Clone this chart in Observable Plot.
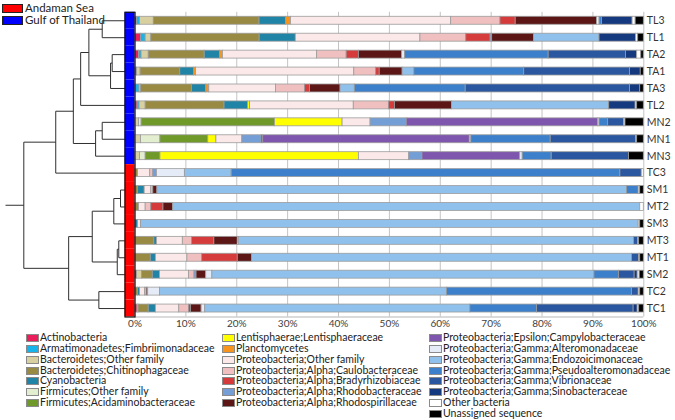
<!DOCTYPE html>
<html>
<head>
<meta charset="utf-8">
<script src="https://cdn.jsdelivr.net/npm/d3@7"></script>
<script src="https://cdn.jsdelivr.net/npm/@observablehq/plot@0.6"></script>
<style>
  body { margin: 0; background: #fff; }
  #wrap { position: relative; width: 675px; height: 420px; background: #fff; font-family: Lato, "Open Sans", sans-serif; overflow: hidden; }
  .abs { position: absolute; }
  .leg-row { position: absolute; height: 10.4px; font-size: 10.5px; color: #222; white-space: nowrap; }
  .leg-sw { position: absolute; left: 0; top: 2px; width: 11px; height: 6px; border: 0.8px solid #8a8a8a; }
  .leg-tx { position: absolute; left: 14px; top: 0; display: inline-block; height: 10.4px; line-height: 10.4px; overflow: visible; }
  .rleg { position: absolute; left: 0; height: 10px; font-size: 11.5px; color: #222; white-space: nowrap; }
  .rleg-sw { position: absolute; left: 0; top: 1px; width: 19px; height: 7px; border: 1px solid #222; }
  .rleg-tx { position: absolute; left: 23px; top: 0; display: inline-block; height: 10px; line-height: 10px; overflow: visible; }
</style>
</head>
<body>
<div id="wrap">
  <div id="bars" class="abs" style="left:0;top:0"></div>
  <div id="dendro" class="abs" style="left:0;top:0"></div>
  <div id="strip" class="abs" style="left:124px;top:0"></div>
  <div id="rlegend" class="abs" style="left:2px;top:2.5px"></div>
  <div id="legend" class="abs" style="left:0;top:331px;width:675px;height:89px"></div>
</div>
<script>
// ---------------- DATA ----------------
const samples = ["TL3","TL1","TA2","TA1","TA3","TL2","MN2","MN1","MN3","TC3","SM1","MT2","SM3","MT3","MT1","SM2","TC2","TC1"];
const sampleRegion = ["Gulf of Thailand","Gulf of Thailand","Gulf of Thailand","Gulf of Thailand","Gulf of Thailand","Gulf of Thailand","Gulf of Thailand","Gulf of Thailand","Gulf of Thailand",
  "Andaman Sea","Andaman Sea","Andaman Sea","Andaman Sea","Andaman Sea","Andaman Sea","Andaman Sea","Andaman Sea","Andaman Sea"];
const regionNames = ["Andaman Sea","Gulf of Thailand"];
const regionColors = ["#FF0000","#0000FF"];

const categories = [
  "Actinobacteria",
  "Armatimonadetes;Fimbriimonadaceae",
  "Bacteroidetes;Other family",
  "Bacteroidetes;Chitinophagaceae",
  "Cyanobacteria",
  "Firmicutes;Other family",
  "Firmicutes;Acidaminobacteraceae",
  "Lentisphaerae;Lentisphaeraceae",
  "Planctomycetes",
  "Proteobacteria;Other family",
  "Proteobacteria;Alpha;Caulobacteraceae",
  "Proteobacteria;Alpha;Bradyrhizobiaceae",
  "Proteobacteria;Alpha;Rhodobacteraceae",
  "Proteobacteria;Alpha;Rhodospirillaceae",
  "Proteobacteria;Epsilon;Campylobacteraceae",
  "Proteobacteria;Gamma;Alteromonadaceae",
  "Proteobacteria;Gamma;Endozoicimonaceae",
  "Proteobacteria;Gamma;Pseudoalteromonadaceae",
  "Proteobacteria;Gamma;Vibrionaceae",
  "Proteobacteria;Gamma;Sinobacteraceae",
  "Other bacteria",
  "Unassigned sequence"
];
const categoryColors = [
  "#EA1E5A","#16B4EA","#D8D0A0","#988A42","#2084A6","#E3EED0","#6F9A2A","#FFFF00",
  "#F7941D","#FBE8E8","#F0C0C0","#D63B3B","#749FD6","#5C1616","#7F56AE","#E6ECF7",
  "#8FC1EC","#3C80CC","#2A579F","#15397F","#FFFFFF","#000000"
];

// relative abundance (%) per sample, in category order
const TL3 = [0.4,0.6,2.7,20.8,5.2,0,0,0,1.0,31.5,9.7,3.0,0,16.0,0,0.5,0,0.5,0,6.0,0.6,1.6];
const TL1 = [1.2,0.9,1.1,21.3,7.1,0,0,0,0,24.5,9.0,4.8,0.3,8.2,0,0,12.9,0,0,7.2,0.4,1.1];
const TA2 = [0.8,0.5,1.4,11.0,3.0,0,0,0,0.6,18.5,5.8,2.4,0,8.5,0,0.6,0,28.2,15.2,2.2,0.8,0.5];
const TA1 = [0,0.4,0.7,7.8,2.7,0,0,0,0.4,31.1,4.3,0.7,0,4.5,0,0,2.3,21.6,20.8,2.1,0,0.6];
const TA3 = [0,0.9,0.3,10.0,2.8,0,0,0,0.6,13.1,5.7,1.0,0,6.0,0,0,2.8,21.8,32.3,2.0,0,0.7];
const TL2 = [0.5,0.4,1.2,15.5,4.6,0,0,0.4,0,20.4,6.9,1.2,0,11.2,0,0,30.9,0,0,5.2,0.3,1.3];
const MN2 = [0,0,0.8,0,0,0.5,26.2,13.3,0,5.5,0,0,7.1,0,37.6,0.3,0,1.7,3.1,0,0.3,3.6];
const MN1 = [0,0,1.2,0,0,3.8,9.4,1.6,0,5.1,0,0,3.8,0.3,40.6,0.3,0,15.6,16.8,0,0.2,1.3];
const MN3 = [0,0,1.0,0,0,1.1,2.9,39.0,0,9.9,0,0,2.6,0,19.2,0.5,0,5.7,15.2,0,0,2.9];
const TC3 = [0,0,0,0.6,0,0,0,0,0,2.4,0.6,0,0.7,0,0,5.5,9.2,76.4,4.2,0,0.4,0];
const SM1 = [0,0,0,0.6,1.3,0,0,0,0,1.3,0.4,0,0,0.8,0,0,92.3,2.3,0,0,0.3,0.7];
const MT2 = [0,0,0,0.8,0,0,0,0,0,1.3,1.1,2.4,0,1.9,0,0,91.8,0,0,0,0.7,0];
const SM3 = [0,0,0,0,0.6,0,0,0,0,0.6,0,0,0,0,0,0,97.8,0,0,0,0.3,0.7];
const MT3 = [0,0,0,3.8,0.5,0,0,0,0,5.1,1.8,4.4,0,4.6,0,0.2,77.7,0,0.8,0,0.2,0.9];
const MT1 = [0,0,0,3.1,1.0,0,0,0,0,6.2,2.9,7.0,0,2.8,0,0,74.7,0,1.4,0,0.2,0.7];
const SM2 = [0.4,0,1.0,2.1,1.4,0,0,0,0,5.7,1.1,0,0.4,1.9,0,1.2,75.1,4.8,3.1,0.6,0.4,0.8];
const TC2 = [0,0,0,0.6,0.4,0,0,0,0,1.0,0.3,0,0,0.3,0,2.3,56.4,36.4,1.3,0,0.3,0.7];
const TC1 = [0.5,0,0.2,2.0,1.4,0,0,0,0,4.6,1.9,0.4,0,2.1,0,0.7,52.1,13.1,19.0,0.8,0.3,0.9];
const sampleValues = [TL3,TL1,TA2,TA1,TA3,TL2,MN2,MN1,MN3,TC3,SM1,MT2,SM3,MT3,MT1,SM2,TC2,TC1];

// hierarchical clustering: [id, childA, childB, height]
const merges = [
  ["E","TL3","TL1",0.229],
  ["G","TA2","TA1",0.131],
  ["F","G","TA3",0.147],
  ["D","E","F",0.360],
  ["C","D","TL2",0.441],
  ["I","MN2","MN1",0.229],
  ["H","I","MN3",0.294],
  ["B","C","H",0.513],
  ["A","B","TC3",0.686],
  ["M","SM1","MT2",0.049],
  ["L","M","SM3",0.115],
  ["O","MT3","MT1",0.066],
  ["N","O","SM2",0.081],
  ["K","L","N",0.327],
  ["P","TC2","TC1",0.262],
  ["J","K","P",0.559],
  ["R","A","J",1.000]
];
const rootStub = 0.18;

const xTicks = [0,0.1,0.2,0.3,0.4,0.5,0.6,0.7,0.8,0.9,1];
const xTickLabels = ["0%","10%","20%","30%","40%","50%","60%","70%","80%","90%","100%"];

// ---------------- LAYOUT ----------------
const H = 331, MT = 11.8, MB = 14.5;
const yDomain = [-0.5, samples.length - 0.5];
const barHalf = 0.235;
const font = 'Lato, "Open Sans", sans-serif';

// stacked segments
const segs = [];
sampleValues.forEach((vals, i) => {
  const total = d3.sum(vals);
  let cum = 0;
  vals.forEach((v, j) => {
    if (v > 0) {
      segs.push({sample: samples[i], row: i, category: categories[j], x1: cum / total, x2: (cum + v) / total});
      cum += v;
    }
  });
});

const bars = Plot.plot({
  width: 675, height: H,
  marginLeft: 134.5, marginRight: 31.7, marginTop: MT, marginBottom: MB,
  style: {fontFamily: font, fontSize: "10px", color: "#404040", background: "transparent", overflow: "visible"},
  x: {domain: [0, 1], ticks: xTicks, tickFormat: (d) => xTickLabels[xTicks.indexOf(d)], tickSize: 0, tickPadding: 3, label: null},
  y: {domain: yDomain, reverse: true, axis: null},
  color: {domain: categories, range: categoryColors},
  marks: [
    Plot.ruleX(xTicks, {stroke: "#c4c4c4", strokeWidth: 1}),
    Plot.ruleY([yDomain[1]], {stroke: "#b8b8b8", strokeWidth: 1.2}),
    Plot.rect(segs, {x1: "x1", x2: "x2", y1: (d) => d.row - barHalf, y2: (d) => d.row + barHalf, fill: "category", stroke: "#9c9c9c", strokeWidth: 0.8}),
    Plot.text(samples, {x: () => 1, y: (d, i) => i, text: (d) => d, textAnchor: "start", dx: 3, fontSize: 10.5, fill: "#333"})
  ]
});
document.getElementById("bars").appendChild(bars);

// dendrogram geometry
const pos = new Map(samples.map((s, i) => [s, {y: i, h: 0}]));
const dsegs = [];
for (const [id, a, b, h] of merges) {
  const A = pos.get(a), B = pos.get(b);
  dsegs.push({x1: h, y1: A.y, x2: h, y2: B.y});
  dsegs.push({x1: A.h, y1: A.y, x2: h, y2: A.y});
  dsegs.push({x1: B.h, y1: B.y, x2: h, y2: B.y});
  pos.set(id, {y: (A.y + B.y) / 2, h});
}
const root = pos.get(merges[merges.length - 1][0]);
dsegs.push({x1: root.h, y1: root.y, x2: root.h + rootStub, y2: root.y});

const dendro = Plot.plot({
  width: 125, height: H,
  marginLeft: 5, marginRight: 0, marginTop: MT, marginBottom: MB,
  style: {background: "transparent", overflow: "visible"},
  x: {domain: [root.h + rootStub, 0], axis: null},
  y: {domain: yDomain, reverse: true, axis: null},
  marks: [
    Plot.link(dsegs, {x1: "x1", y1: "y1", x2: "x2", y2: "y2", stroke: "#303030", strokeWidth: 1})
  ]
});
document.getElementById("dendro").appendChild(dendro);

// region strip
const strip = Plot.plot({
  width: 11, height: H,
  marginLeft: 0.5, marginRight: 0.5, marginTop: MT, marginBottom: MB,
  style: {background: "transparent", overflow: "visible"},
  x: {domain: [0, 1], axis: null},
  y: {domain: yDomain, reverse: true, axis: null},
  color: {domain: regionNames, range: regionColors},
  marks: [
    Plot.rect(samples, {x1: () => 0, x2: () => 1, y1: (d, i) => i - 0.5, y2: (d, i) => i + 0.5, fill: (d, i) => sampleRegion[i]}),
    Plot.frame({stroke: "#111", strokeWidth: 1.2})
  ]
});
document.getElementById("strip").appendChild(strip);

// region legend (top-left)
const rl = document.getElementById("rlegend");
regionNames.forEach((n, k) => {
  const row = document.createElement("div");
  row.className = "rleg";
  row.style.top = (k * 12.5) + "px";
  row.innerHTML = `<span class="rleg-sw" style="background:${regionColors[k]}"></span><span class="rleg-tx">${n}</span>`;
  rl.appendChild(row);
});

// category legend (bottom, 3 columns)
const lg = document.getElementById("legend");
const colLeft = [26, 222, 429];
const colStart = [0, 7, 14];
categories.forEach((c, j) => {
  const col = j >= colStart[2] ? 2 : j >= colStart[1] ? 1 : 0;
  const r = j - colStart[col];
  const row = document.createElement("div");
  row.className = "leg-row";
  row.style.left = colLeft[col] + "px";
  row.style.top = (1.2 + r * 10.8) + "px";
  row.innerHTML = `<span class="leg-sw" style="background:${categoryColors[j]}"></span><span class="leg-tx">${c}</span>`;
  lg.appendChild(row);
});
</script>
</body>
</html>
